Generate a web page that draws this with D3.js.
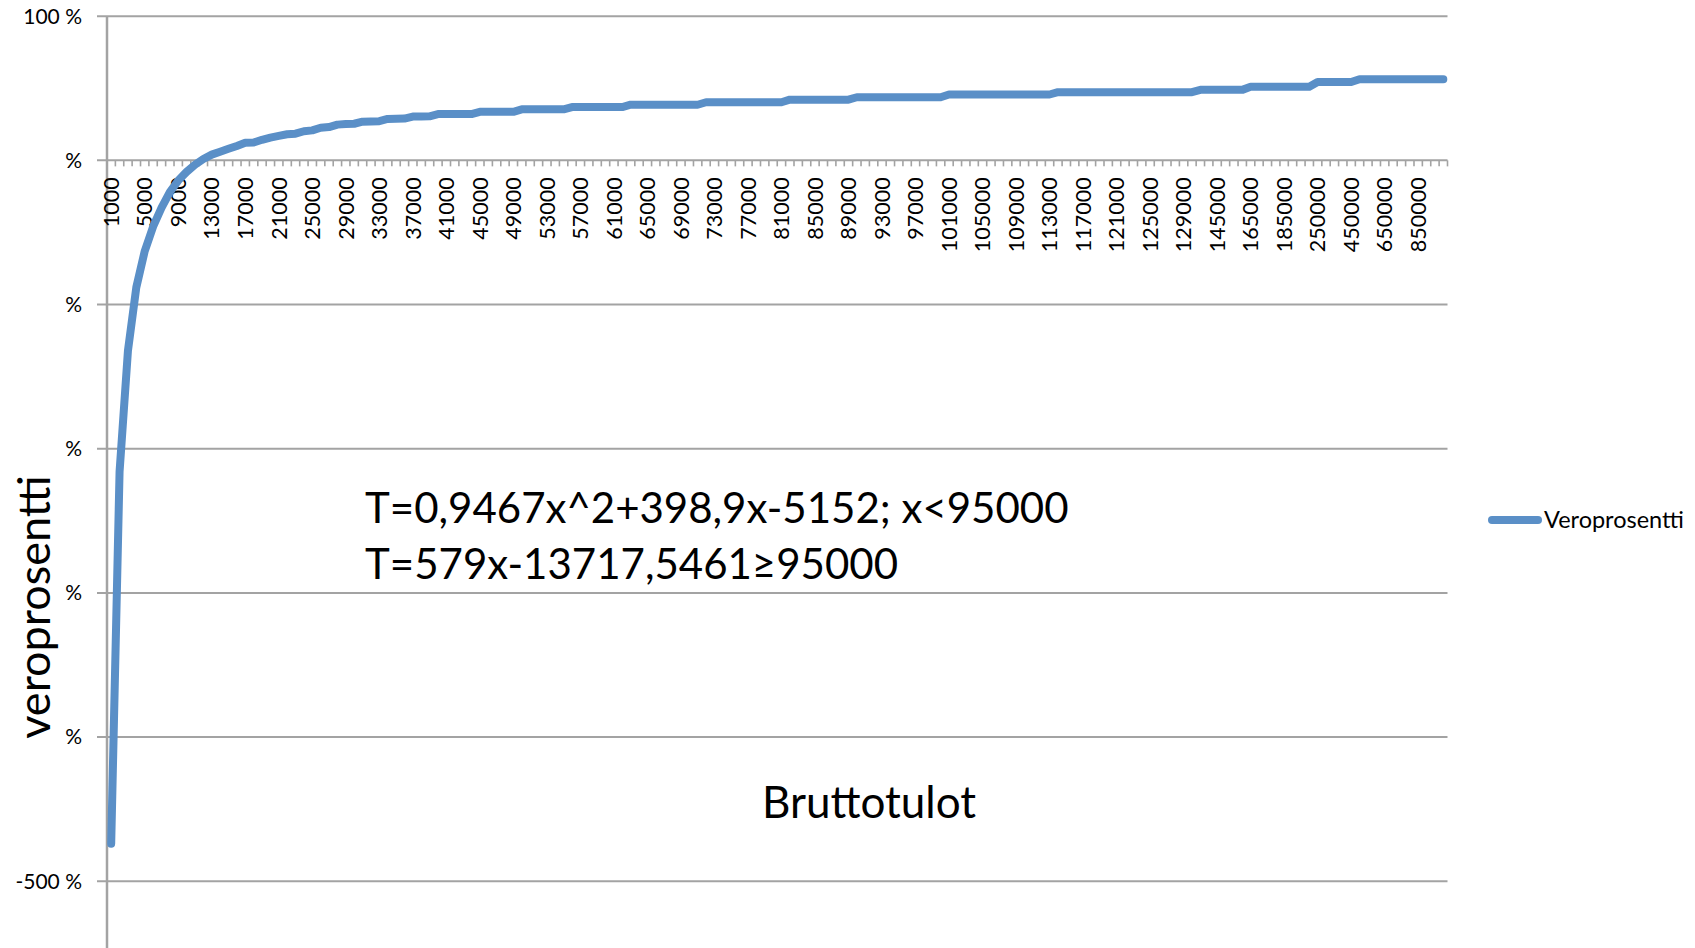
<!DOCTYPE html>
<html>
<head>
<meta charset="utf-8">
<script src="https://cdn.jsdelivr.net/npm/d3@7/dist/d3.min.js"></script>
<style>
  body { margin: 0; background: #fff; }
  text { font-family: Lato, "Open Sans", sans-serif; fill: #000; }
</style>
</head>
<body>
<svg width="1695" height="948"></svg>
<script>
// bruttotulot (categories on the x axis)
const incomes = [
  1000, 2000, 3000, 4000, 5000, 6000, 7000, 8000, 9000, 10000,
  11000, 12000, 13000, 14000, 15000, 16000, 17000, 18000, 19000, 20000,
  21000, 22000, 23000, 24000, 25000, 26000, 27000, 28000, 29000, 30000,
  31000, 32000, 33000, 34000, 35000, 36000, 37000, 38000, 39000, 40000,
  41000, 42000, 43000, 44000, 45000, 46000, 47000, 48000, 49000, 50000,
  51000, 52000, 53000, 54000, 55000, 56000, 57000, 58000, 59000, 60000,
  61000, 62000, 63000, 64000, 65000, 66000, 67000, 68000, 69000, 70000,
  71000, 72000, 73000, 74000, 75000, 76000, 77000, 78000, 79000, 80000,
  81000, 82000, 83000, 84000, 85000, 86000, 87000, 88000, 89000, 90000,
  91000, 92000, 93000, 94000, 95000, 96000, 97000, 98000, 99000, 100000,
  101000, 102000, 103000, 104000, 105000, 106000, 107000, 108000, 109000, 110000,
  111000, 112000, 113000, 114000, 115000, 116000, 117000, 118000, 119000, 120000,
  121000, 122000, 123000, 124000, 125000, 126000, 127000, 128000, 129000, 130000,
  135000, 140000, 145000, 150000, 155000, 160000, 165000, 170000, 175000, 180000,
  185000, 190000, 200000, 225000, 250000, 300000, 350000, 400000, 450000, 500000,
  550000, 600000, 650000, 700000, 750000, 800000, 850000, 900000, 950000, 1000000
];

// veroprosentti
const taxPct = [
  -474, -216, -132, -88, -63, -46, -33, -22, -14, -8,
  -3, 1, 4, 6, 8, 10, 12.2, 12.4, 14.3, 15.8,
  17, 18.1, 18.5, 20.2, 20.8, 22.6, 23.1, 24.8, 25.2, 25.4,
  26.8, 27, 27.2, 28.7, 28.9, 29, 30.4, 30.5, 30.6, 32.1,
  32.1, 32.1, 32.1, 32.1, 33.7, 33.7, 33.7, 33.7, 33.7, 35.4,
  35.4, 35.4, 35.4, 35.4, 35.4, 37, 37, 37, 37, 37,
  37, 37, 38.6, 38.6, 38.6, 38.6, 38.6, 38.6, 38.6, 38.6,
  38.6, 40.3, 40.3, 40.3, 40.3, 40.3, 40.3, 40.3, 40.3, 40.3,
  40.3, 42.1, 42.1, 42.1, 42.1, 42.1, 42.1, 42.1, 42.1, 43.8,
  43.8, 43.8, 43.8, 43.8, 43.8, 43.8, 43.8, 43.8, 43.8, 43.8,
  45.7, 45.7, 45.7, 45.7, 45.7, 45.7, 45.7, 45.7, 45.7, 45.7,
  45.7, 45.7, 45.7, 47.3, 47.3, 47.3, 47.3, 47.3, 47.3, 47.3,
  47.3, 47.3, 47.3, 47.3, 47.3, 47.3, 47.3, 47.3, 47.3, 47.3,
  48.9, 48.9, 48.9, 48.9, 48.9, 48.9, 51, 51, 51, 51,
  51, 51, 51, 51, 54.3, 54.3, 54.3, 54.3, 54.3, 56.3,
  56.3, 56.3, 56.3, 56.3, 56.3, 56.3, 56.3, 56.3, 56.3, 56.3
];

const yTicks = [100, 0, -100, -200, -300, -400, -500];
const yTickLabels = ["100 %", "%", "%", "%", "%", "%", "-500 %"];
const formulaLines = ["T=0,9467x^2+398,9x-5152; x<95000", "T=579x-13717,5461≥95000"];
const seriesName = "Veroprosentti";
const xTitle = "Bruttotulot";
const yTitle = "veroprosentti";

const svg = d3.select("svg");
const grey = "#a3a3a3";
const blue = "#5a8fc7";

const x = d3.scaleBand().domain(incomes).range([107, 1447.5]);
const y = d3.scaleLinear().domain([-600, 100]).range([1025.4, 16.2]);
const cx = d => x(d) + x.bandwidth() / 2;

// gridlines (with the little outside ticks on the left)
svg.append("g").selectAll("line")
  .data(yTicks)
  .join("line")
  .attr("x1", 97).attr("x2", 1447.5)
  .attr("y1", d => y(d)).attr("y2", d => y(d))
  .attr("stroke", grey).attr("stroke-width", 2);

// y axis line runs off the bottom of the picture
svg.append("line")
  .attr("x1", 107).attr("x2", 107)
  .attr("y1", y(100)).attr("y2", 948)
  .attr("stroke", grey).attr("stroke-width", 2.5);

// y tick labels
svg.append("g").selectAll("text")
  .data(yTicks)
  .join("text")
  .attr("x", 82)
  .attr("y", d => y(d))
  .attr("dy", "0.35em")
  .attr("text-anchor", "end")
  .style("font-size", "21px")
  .text((d, i) => yTickLabels[i]);

// x axis: tick marks between every category
const xAxis = svg.append("g");
const bounds = incomes.map(d => x(d)).concat([x.range()[1]]);
xAxis.selectAll("line.tick")
  .data(bounds)
  .join("line")
  .attr("class", "tick")
  .attr("x1", d => d).attr("x2", d => d)
  .attr("y1", y(0)).attr("y2", y(0) + 6)
  .attr("stroke", grey).attr("stroke-width", 1.6);

xAxis.selectAll("text")
  .data(incomes.filter((d, i) => i % 4 === 0))
  .join("text")
  .attr("transform", d => `translate(${cx(d)},${y(0) + 17}) rotate(-90)`)
  .attr("dy", "0.36em")
  .attr("text-anchor", "end")
  .style("font-size", "21.5px")
  .text(d => d);

// the line
const line = d3.line()
  .x((d, i) => cx(incomes[i]))
  .y(d => y(d));

svg.append("path")
  .datum(taxPct)
  .attr("d", line)
  .attr("fill", "none")
  .attr("stroke", blue)
  .attr("stroke-width", 8)
  .attr("stroke-linejoin", "round")
  .attr("stroke-linecap", "round");

// titles and annotation
svg.append("text")
  .attr("transform", "translate(50,607) rotate(-90)")
  .attr("text-anchor", "middle")
  .style("font-size", "45px")
  .text(yTitle);

svg.append("text")
  .attr("x", 869).attr("y", 818)
  .attr("text-anchor", "middle")
  .style("font-size", "44px")
  .text(xTitle);

svg.append("g").selectAll("text")
  .data(formulaLines)
  .join("text")
  .attr("x", 365)
  .attr("y", (d, i) => 523 + i * 56)
  .style("font-size", "42px")
  .text(d => d);

// legend
svg.append("line")
  .attr("x1", 1492).attr("x2", 1538)
  .attr("y1", 520).attr("y2", 520)
  .attr("stroke", blue).attr("stroke-width", 8)
  .attr("stroke-linecap", "round");

svg.append("text")
  .attr("x", 1544).attr("y", 520)
  .attr("dy", "0.35em")
  .style("font-size", "23.5px")
  .text(seriesName);
</script>
</body>
</html>
